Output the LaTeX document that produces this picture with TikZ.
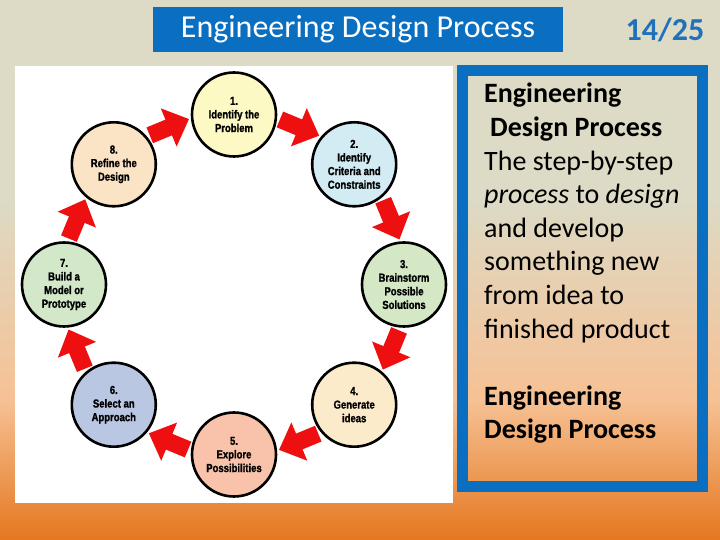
\documentclass[tikz,border=0pt]{standalone}
\usepackage{fontspec}
\setmainfont{Carlito}
\newfontfamily\stepfont[FakeStretch=0.82, BoldFeatures={FakeBold=1.2}]{Liberation Sans}
\usetikzlibrary{arrows.meta}
\definecolor{edpblue}{HTML}{0A6FC0}
\definecolor{edppage}{HTML}{1F72BA}
\definecolor{edpred}{HTML}{EE1010}
\definecolor{edpbeige}{HTML}{DDDAC5}
\definecolor{edppeach}{HTML}{F6C194}
\definecolor{edporange}{HTML}{E5771F}
\definecolor{edpyellow}{HTML}{FDF9C4}
\definecolor{edpsky}{HTML}{D3ECF4}
\definecolor{edpmint}{HTML}{D4E8C6}
\definecolor{edpcream}{HTML}{FCEBCB}
\definecolor{edpsalmon}{HTML}{F8C3AA}
\definecolor{edpslate}{HTML}{B9C7E2}
\definecolor{edpsage}{HTML}{D3E7C9}
\definecolor{edpsand}{HTML}{FBE4C6}

\begin{document}
\begin{tikzpicture}[
    x=1pt, y=1pt,
    stepnode/.style={circle, draw, line width=2.6pt, minimum size=84pt, inner sep=0pt, align=center, font=\stepfont\bfseries\fontsize{11.6}{13.6}\selectfont},
    titlebox/.style={rectangle, fill=edpblue, text=white, minimum width=410pt, minimum height=45pt, inner sep=0pt, font=\fontsize{32}{36}\selectfont},
    flow/.style={-{Triangle[width=40pt,length=22pt]}, line width=17pt, draw=edpred, shorten <=1pt, transform canvas={shift={(#1:13)}}}
  ]
    % Background
    \useasboundingbox (0,0) rectangle (720,540);
    \fill[edpbeige] (0,340) rectangle (720,540);
    \shade[top color=edpbeige, bottom color=edppeach] (0,140) rectangle (720,340);
    \shade[top color=edppeach, bottom color=edporange] (0,0) rectangle (720,140);

    % Title and page number
    \node[titlebox] (title) at (358,510.5) {Engineering Design Process};
    \node[text=edppage, font=\bfseries\fontsize{32}{36}\selectfont] (page) at (665,510) {14/25};

    % Diagram panel
    \fill[white] (15,37) rectangle (453,474);

    % Steps around the ring
    \node[stepnode, fill=edpyellow] (s1) at (234,425.5) {1.\\Identify the\\Problem};
    \node[stepnode, fill=edpsky] (s2) at (354.2,375.7) {2.\\Identify\\Criteria and\\Constraints};
    \node[stepnode, fill=edpmint] (s3) at (404,255.5) {3.\\Brainstorm\\Possible\\Solutions};
    \node[stepnode, fill=edpcream] (s4) at (354.2,135.3) {4.\\Generate\\ideas};
    \node[stepnode, fill=edpsalmon] (s5) at (234,85.5) {5.\\Explore\\Possibilities};
    \node[stepnode, fill=edpslate] (s6) at (113.8,135.3) {6.\\Select an\\Approach};
    \node[stepnode, fill=edpsage] (s7) at (64,255.5) {7.\\Build a\\Model or\\Prototype};
    \node[stepnode, fill=edpsand] (s8) at (113.8,375.7) {8.\\Refine the\\Design};

    % Arrows, pushed out onto the ring
    \draw[flow=67.5] (s1) -- (s2);
    \draw[flow=22.5] (s2) -- (s3);
    \draw[flow=-22.5] (s3) -- (s4);
    \draw[flow=-67.5] (s4) -- (s5);
    \draw[flow=-112.5] (s5) -- (s6);
    \draw[flow=-157.5] (s6) -- (s7);
    \draw[flow=157.5] (s7) -- (s8);
    \draw[flow=112.5] (s8) -- (s1);

    % Description box
    \draw[edpblue, line width=11pt] (462,53) rectangle (702,469);
    \node[anchor=north west, align=left, inner sep=0pt, font=\fontsize{28}{33.6}\selectfont] (desc) at (484,457)
      {\textbf{Engineering}\\
       \textbf{\hspace*{6pt}Design Process}\\
       The step-by-step\\
       \textit{process} to \textit{design}\\
       and develop\\
       something new\\
       from idea to\\
       finished product\\[33.6pt]
       \textbf{Engineering}\\
       \textbf{Design Process}};
  \end{tikzpicture}
\end{document}
